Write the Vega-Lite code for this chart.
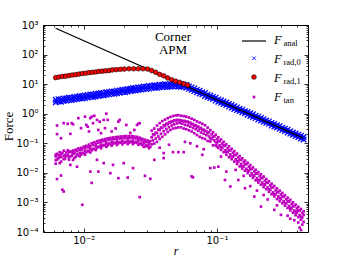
{
"$schema":"https://vega.github.io/schema/vega-lite/v6.json",
"width":265,"height":207,
"autosize":"none",
"padding":{"left":43,"top":25,"right":36,"bottom":26},
"background":"white",
"config":{"view":{"stroke":"black","strokeWidth":1},"axis":{"grid":false,"domain":false,"tickColor":"black","labelColor":"black","titleColor":"black","labelFont":"DejaVu Sans","labelFontSize":10,"tickWidth":0.8}},
"datasets":{
"anal":[{"r":0.00616,"f":774},{"r":0.4415,"f":0.152}],
"blue":[
{"r":0.00617,"f":2.95},{"r":0.00617,"f":2.45},{"r":0.00646,"f":3.11},{"r":0.00646,"f":2.56},{"r":0.00676,"f":3.10},{"r":0.00676,"f":2.55},{"r":0.00708,"f":3.27},{"r":0.00708,"f":2.66},{"r":0.00741,"f":3.33},{"r":0.00741,"f":2.77},{"r":0.00776,"f":3.52},{"r":0.00776,"f":2.90},{"r":0.00813,"f":3.51},{"r":0.00813,"f":2.88},{"r":0.00851,"f":3.70},{"r":0.00851,"f":3.01},{"r":0.00891,"f":3.78},{"r":0.00891,"f":3.14},{"r":0.00933,"f":3.98},{"r":0.00933,"f":3.27},{"r":0.00977,"f":3.96},{"r":0.00977,"f":3.26},{"r":0.01023,"f":4.18},{"r":0.01023,"f":3.40},{"r":0.01072,"f":4.27},{"r":0.01072,"f":3.55},{"r":0.01122,"f":4.50},{"r":0.01122,"f":3.70},{"r":0.01175,"f":4.48},{"r":0.01175,"f":3.68},{"r":0.0123,"f":4.71},{"r":0.0123,"f":3.83},{"r":0.01288,"f":4.80},{"r":0.01288,"f":3.99},{"r":0.01349,"f":5.06},{"r":0.01349,"f":4.16},{"r":0.01413,"f":5.04},{"r":0.01413,"f":4.14},{"r":0.01479,"f":5.31},{"r":0.01479,"f":4.32},{"r":0.01549,"f":5.42},{"r":0.01549,"f":4.51},{"r":0.01622,"f":5.71},{"r":0.01622,"f":4.70},{"r":0.01698,"f":5.70},{"r":0.01698,"f":4.69},{"r":0.01778,"f":6.03},{"r":0.01778,"f":4.90},{"r":0.01862,"f":6.15},{"r":0.01862,"f":5.12},{"r":0.0195,"f":6.50},{"r":0.0195,"f":5.35},{"r":0.02042,"f":6.49},{"r":0.02042,"f":5.33},{"r":0.02138,"f":6.85},{"r":0.02138,"f":5.57},{"r":0.02239,"f":7.00},{"r":0.02239,"f":5.82},{"r":0.02344,"f":7.40},{"r":0.02344,"f":6.08},{"r":0.02455,"f":7.38},{"r":0.02455,"f":6.07},{"r":0.0257,"f":7.78},{"r":0.0257,"f":6.32},{"r":0.02692,"f":7.91},{"r":0.02692,"f":6.58},{"r":0.02818,"f":8.32},{"r":0.02818,"f":6.76},{"r":0.02951,"f":8.26},{"r":0.02951,"f":6.79},{"r":0.0309,"f":8.69},{"r":0.0309,"f":7.06},{"r":0.03236,"f":8.81},{"r":0.03236,"f":7.33},{"r":0.03388,"f":9.23},{"r":0.03388,"f":7.50},{"r":0.03548,"f":9.12},{"r":0.03548,"f":7.50},{"r":0.03715,"f":9.55},{"r":0.03715,"f":7.76},{"r":0.0389,"f":9.66},{"r":0.0389,"f":8.04},{"r":0.04074,"f":10.05},{"r":0.04074,"f":8.17},{"r":0.04266,"f":9.79},{"r":0.04266,"f":8.05},{"r":0.04467,"f":10.0},{"r":0.04467,"f":8.22},{"r":0.04677,"f":10.1},{"r":0.04677,"f":8.39},{"r":0.04898,"f":10.4},{"r":0.04898,"f":8.47},{"r":0.05129,"f":10.07},{"r":0.05129,"f":8.28},{"r":0.0537,"f":10.2},{"r":0.0537,"f":8.17},{"r":0.05623,"f":9.77},{"r":0.05623,"f":8.13},{"r":0.05888,"f":9.33},{"r":0.05888,"f":7.59},{"r":0.06166,"f":8.41},{"r":0.06166,"f":6.92},{"r":0.06457,"f":7.78},{"r":0.06457,"f":6.47},{"r":0.06761,"f":7.18},{"r":0.06761,"f":5.83},{"r":0.07079,"f":6.40},{"r":0.07079,"f":5.32},{"r":0.07413,"f":5.97},{"r":0.07413,"f":4.85},{"r":0.07762,"f":5.38},{"r":0.07762,"f":4.53},{"r":0.08128,"f":5.02},{"r":0.08128,"f":3.99},{"r":0.08511,"f":4.43},{"r":0.08511,"f":3.68},{"r":0.08913,"f":4.13},{"r":0.08913,"f":3.40},{"r":0.09333,"f":3.72},{"r":0.09333,"f":3.13},{"r":0.09772,"f":3.48},{"r":0.09772,"f":2.76},{"r":0.1023,"f":3.06},{"r":0.1023,"f":2.55},{"r":0.1072,"f":2.86},{"r":0.1072,"f":2.32},{"r":0.1122,"f":2.58},{"r":0.1122,"f":2.14},{"r":0.1175,"f":2.40},{"r":0.1175,"f":1.98},{"r":0.123,"f":2.12},{"r":0.123,"f":1.74},{"r":0.1288,"f":1.98},{"r":0.1288,"f":1.59},{"r":0.1349,"f":1.78},{"r":0.1349,"f":1.45},{"r":0.1413,"f":1.64},{"r":0.1413,"f":1.34},{"r":0.1479,"f":1.48},{"r":0.1479,"f":1.23},{"r":0.1549,"f":1.38},{"r":0.1549,"f":1.12},{"r":0.1622,"f":1.22},{"r":0.1622,"f":1.03},{"r":0.1698,"f":1.14},{"r":0.1698,"f":0.925},{"r":0.1778,"f":1.04},{"r":0.1778,"f":0.834},{"r":0.1862,"f":0.957},{"r":0.1862,"f":0.769},{"r":0.195,"f":0.853},{"r":0.195,"f":0.710},{"r":0.2042,"f":0.796},{"r":0.2042,"f":0.640},{"r":0.2138,"f":0.718},{"r":0.2138,"f":0.583},{"r":0.2239,"f":0.655},{"r":0.2239,"f":0.532},{"r":0.2344,"f":0.590},{"r":0.2344,"f":0.491},{"r":0.2455,"f":0.551},{"r":0.2455,"f":0.453},{"r":0.257,"f":0.485},{"r":0.257,"f":0.399},{"r":0.2692,"f":0.453},{"r":0.2692,"f":0.368},{"r":0.2818,"f":0.408},{"r":0.2818,"f":0.340},{"r":0.2951,"f":0.381},{"r":0.2951,"f":0.306},{"r":0.309,"f":0.336},{"r":0.309,"f":0.279},{"r":0.3236,"f":0.313},{"r":0.3236,"f":0.261},{"r":0.3388,"f":0.286},{"r":0.3388,"f":0.230},{"r":0.3548,"f":0.258},{"r":0.3548,"f":0.212},{"r":0.3715,"f":0.232},{"r":0.3715,"f":0.195},{"r":0.389,"f":0.214},{"r":0.389,"f":0.176},{"r":0.4074,"f":0.195},{"r":0.4074,"f":0.159},{"r":0.4266,"f":0.180},{"r":0.4266,"f":0.145},{"r":0.4467,"f":0.163},{"r":0.4467,"f":0.135}
],
"red":[
{"r":0.006166,"f":16.6},{"r":0.006531,"f":17.4},{"r":0.006918,"f":18.2},{"r":0.007328,"f":18.6},{"r":0.007762,"f":19.5},{"r":0.008222,"f":20.4},{"r":0.00871,"f":20.9},{"r":0.009226,"f":21.9},{"r":0.009772,"f":22.9},{"r":0.01035,"f":23.4},{"r":0.01096,"f":24.5},{"r":0.01161,"f":25.1},{"r":0.0123,"f":25.7},{"r":0.01303,"f":26.9},{"r":0.0138,"f":27.5},{"r":0.01462,"f":28.2},{"r":0.01549,"f":28.8},{"r":0.01641,"f":30.2},{"r":0.01758,"f":30.9},{"r":0.01884,"f":31.6},{"r":0.02018,"f":32.4},{"r":0.02188,"f":33.1},{"r":0.02371,"f":33.1},{"r":0.0257,"f":33.1},{"r":0.02786,"f":33.1},{"r":0.0302,"f":32.4},{"r":0.03236,"f":28.8},{"r":0.03467,"f":25.1},{"r":0.03715,"f":21.4},{"r":0.03981,"f":19.1},{"r":0.04266,"f":16.2},{"r":0.04571,"f":14.1},{"r":0.04898,"f":12.6},{"r":0.05248,"f":11.5},{"r":0.05623,"f":10.2},{"r":0.06026,"f":9.3}
],
"mag":[
{"r":0.00617,"f":0.041},{"r":0.00617,"f":0.0269},{"r":0.00617,"f":0.036},{"r":0.00617,"f":0.0204},{"r":0.00631,"f":0.044},{"r":0.00631,"f":0.028},{"r":0.00646,"f":0.040},{"r":0.00646,"f":0.031},{"r":0.00661,"f":0.0363},{"r":0.00661,"f":0.05},{"r":0.00676,"f":0.043},{"r":0.00676,"f":0.034},{"r":0.00676,"f":0.024},{"r":0.00692,"f":0.047},{"r":0.00708,"f":0.056},{"r":0.00708,"f":0.029},{"r":0.00708,"f":0.037},{"r":0.00724,"f":0.040},{"r":0.00724,"f":0.03},{"r":0.00741,"f":0.049},{"r":0.00741,"f":0.036},{"r":0.00759,"f":0.041},{"r":0.00759,"f":0.058},{"r":0.00776,"f":0.05},{"r":0.00776,"f":0.0339},{"r":0.00776,"f":0.028},{"r":0.00794,"f":0.053},{"r":0.00794,"f":0.036},{"r":0.00813,"f":0.05},{"r":0.00813,"f":0.038},{"r":0.00832,"f":0.057},{"r":0.00832,"f":0.044},{"r":0.00851,"f":0.052},{"r":0.00851,"f":0.032},{"r":0.00851,"f":0.046},{"r":0.00871,"f":0.061},{"r":0.00871,"f":0.035},{"r":0.00891,"f":0.054},{"r":0.00891,"f":0.042},{"r":0.00912,"f":0.067},{"r":0.00912,"f":0.039},{"r":0.00933,"f":0.059},{"r":0.00933,"f":0.036},{"r":0.00933,"f":0.047},{"r":0.00955,"f":0.07},{"r":0.00955,"f":0.041},{"r":0.00977,"f":0.062},{"r":0.00977,"f":0.048},{"r":0.01,"f":0.077},{"r":0.01,"f":0.045},{"r":0.01023,"f":0.068},{"r":0.01023,"f":0.041},{"r":0.01023,"f":0.055},{"r":0.01047,"f":0.082},{"r":0.01047,"f":0.05},{"r":0.01072,"f":0.073},{"r":0.01072,"f":0.056},{"r":0.01096,"f":0.09},{"r":0.01096,"f":0.053},{"r":0.01122,"f":0.08},{"r":0.01122,"f":0.049},{"r":0.01122,"f":0.066},{"r":0.01148,"f":0.1},{"r":0.01148,"f":0.058},{"r":0.01175,"f":0.088},{"r":0.01175,"f":0.065},{"r":0.01202,"f":0.108},{"r":0.01202,"f":0.064},{"r":0.0123,"f":0.096},{"r":0.0123,"f":0.059},{"r":0.0123,"f":0.079},{"r":0.01259,"f":0.118},{"r":0.01259,"f":0.07},{"r":0.01288,"f":0.103},{"r":0.01288,"f":0.076},{"r":0.01318,"f":0.125},{"r":0.01318,"f":0.078},{"r":0.01349,"f":0.11},{"r":0.01349,"f":0.068},{"r":0.01349,"f":0.09},{"r":0.0138,"f":0.132},{"r":0.0138,"f":0.081},{"r":0.01413,"f":0.118},{"r":0.01413,"f":0.088},{"r":0.01445,"f":0.14},{"r":0.01445,"f":0.086},{"r":0.01479,"f":0.124},{"r":0.01479,"f":0.076},{"r":0.01479,"f":0.1},{"r":0.01514,"f":0.146},{"r":0.01514,"f":0.086},{"r":0.01549,"f":0.13},{"r":0.01549,"f":0.098},{"r":0.01585,"f":0.152},{"r":0.01585,"f":0.094},{"r":0.01622,"f":0.135},{"r":0.01622,"f":0.083},{"r":0.01622,"f":0.11},{"r":0.0166,"f":0.158},{"r":0.0166,"f":0.095},{"r":0.01698,"f":0.138},{"r":0.01698,"f":0.105},{"r":0.01738,"f":0.162},{"r":0.01738,"f":0.1},{"r":0.01778,"f":0.14},{"r":0.01778,"f":0.087},{"r":0.01778,"f":0.115},{"r":0.0182,"f":0.166},{"r":0.0182,"f":0.1},{"r":0.01862,"f":0.145},{"r":0.01862,"f":0.11},{"r":0.01905,"f":0.17},{"r":0.01905,"f":0.105},{"r":0.0195,"f":0.148},{"r":0.0195,"f":0.092},{"r":0.0195,"f":0.12},{"r":0.01995,"f":0.172},{"r":0.01995,"f":0.104},{"r":0.02042,"f":0.148},{"r":0.02042,"f":0.112},{"r":0.02089,"f":0.176},{"r":0.02089,"f":0.108},{"r":0.02138,"f":0.15},{"r":0.02138,"f":0.094},{"r":0.02138,"f":0.124},{"r":0.02188,"f":0.175},{"r":0.02188,"f":0.106},{"r":0.02239,"f":0.15},{"r":0.02239,"f":0.115},{"r":0.02291,"f":0.174},{"r":0.02291,"f":0.109},{"r":0.02344,"f":0.15},{"r":0.02344,"f":0.094},{"r":0.02344,"f":0.123},{"r":0.02399,"f":0.17},{"r":0.02399,"f":0.104},{"r":0.02455,"f":0.146},{"r":0.02455,"f":0.112},{"r":0.02512,"f":0.165},{"r":0.02512,"f":0.103},{"r":0.0257,"f":0.143},{"r":0.0257,"f":0.089},{"r":0.0257,"f":0.118},{"r":0.0263,"f":0.155},{"r":0.0263,"f":0.095},{"r":0.02692,"f":0.132},{"r":0.02692,"f":0.104},{"r":0.02754,"f":0.142},{"r":0.02754,"f":0.088},{"r":0.02818,"f":0.12},{"r":0.02818,"f":0.076},{"r":0.02818,"f":0.1},{"r":0.02884,"f":0.132},{"r":0.02884,"f":0.078},{"r":0.02951,"f":0.112},{"r":0.02951,"f":0.088},{"r":0.0302,"f":0.124},{"r":0.0302,"f":0.079},{"r":0.0309,"f":0.108},{"r":0.0309,"f":0.068},{"r":0.0309,"f":0.094},{"r":0.03162,"f":0.118},{"r":0.03162,"f":0.075},
{"r":0.03236,"f":0.269},{"r":0.03236,"f":0.16},{"r":0.03236,"f":0.092},{"r":0.03311,"f":0.2},{"r":0.03311,"f":0.125},{"r":0.03388,"f":0.316},{"r":0.03388,"f":0.19},{"r":0.03388,"f":0.098},{"r":0.03467,"f":0.23},{"r":0.03467,"f":0.145},{"r":0.03548,"f":0.398},{"r":0.03548,"f":0.22},{"r":0.03548,"f":0.112},{"r":0.03631,"f":0.29},{"r":0.03631,"f":0.17},{"r":0.03715,"f":0.479},{"r":0.03715,"f":0.28},{"r":0.03715,"f":0.14},{"r":0.03802,"f":0.34},{"r":0.03802,"f":0.21},{"r":0.0389,"f":0.562},{"r":0.0389,"f":0.33},{"r":0.0389,"f":0.165},{"r":0.03981,"f":0.41},{"r":0.03981,"f":0.255},{"r":0.04074,"f":0.631},{"r":0.04074,"f":0.38},{"r":0.04074,"f":0.2},{"r":0.04169,"f":0.46},{"r":0.04169,"f":0.3},{"r":0.04266,"f":0.708},{"r":0.04266,"f":0.44},{"r":0.04266,"f":0.24},{"r":0.04365,"f":0.52},{"r":0.04365,"f":0.35},{"r":0.04467,"f":0.776},{"r":0.04467,"f":0.5},{"r":0.04467,"f":0.28},{"r":0.04571,"f":0.56},{"r":0.04571,"f":0.4},{"r":0.04677,"f":0.832},{"r":0.04677,"f":0.55},{"r":0.04677,"f":0.315},{"r":0.04786,"f":0.6},{"r":0.04786,"f":0.44},{"r":0.04898,"f":0.871},{"r":0.04898,"f":0.59},{"r":0.04898,"f":0.33},{"r":0.05012,"f":0.62},{"r":0.05012,"f":0.47},{"r":0.05129,"f":0.891},{"r":0.05129,"f":0.6},{"r":0.05129,"f":0.345},{"r":0.05248,"f":0.61},{"r":0.05248,"f":0.49},{"r":0.0537,"f":0.851},{"r":0.0537,"f":0.58},{"r":0.0537,"f":0.345},{"r":0.05495,"f":0.58},{"r":0.05495,"f":0.46},{"r":0.05623,"f":0.832},{"r":0.05623,"f":0.55},{"r":0.05623,"f":0.315},{"r":0.05754,"f":0.57},{"r":0.05754,"f":0.42},{"r":0.05888,"f":0.794},{"r":0.05888,"f":0.53},{"r":0.05888,"f":0.3},{"r":0.06026,"f":0.54},{"r":0.06026,"f":0.4},{"r":0.06166,"f":0.741},{"r":0.06166,"f":0.48},{"r":0.06166,"f":0.275},{"r":0.0631,"f":0.5},{"r":0.0631,"f":0.365},{"r":0.06457,"f":0.676},{"r":0.06457,"f":0.44},{"r":0.06457,"f":0.25},{"r":0.06607,"f":0.45},{"r":0.06607,"f":0.33},{"r":0.06761,"f":0.617},{"r":0.06761,"f":0.39},{"r":0.06761,"f":0.218},{"r":0.06918,"f":0.41},{"r":0.06918,"f":0.3},{"r":0.07079,"f":0.55},{"r":0.07079,"f":0.35},{"r":0.07079,"f":0.19},{"r":0.07244,"f":0.37},{"r":0.07244,"f":0.265},{"r":0.07413,"f":0.501},{"r":0.07413,"f":0.31},{"r":0.07413,"f":0.166},{"r":0.07586,"f":0.33},{"r":0.07586,"f":0.23},{"r":0.07762,"f":0.457},{"r":0.07762,"f":0.28},{"r":0.07762,"f":0.15},{"r":0.07943,"f":0.29},{"r":0.07943,"f":0.21},{"r":0.08128,"f":0.407},{"r":0.08128,"f":0.26},{"r":0.08128,"f":0.14},{"r":0.08318,"f":0.26},{"r":0.08318,"f":0.19},{"r":0.08511,"f":0.339},{"r":0.08511,"f":0.22},{"r":0.08511,"f":0.12},
{"r":0.0871,"f":0.234},{"r":0.0871,"f":0.17},{"r":0.08913,"f":0.28},{"r":0.08913,"f":0.15},{"r":0.08913,"f":0.115},{"r":0.0912,"f":0.2},{"r":0.0912,"f":0.14},{"r":0.09333,"f":0.235},{"r":0.09333,"f":0.165},{"r":0.09333,"f":0.085},{"r":0.0955,"f":0.17},{"r":0.0955,"f":0.125},{"r":0.09772,"f":0.195},{"r":0.09772,"f":0.11},{"r":0.09772,"f":0.085},{"r":0.1,"f":0.141},{"r":0.1,"f":0.1},{"r":0.1023,"f":0.16},{"r":0.1023,"f":0.12},{"r":0.1023,"f":0.07},{"r":0.1047,"f":0.117},{"r":0.1047,"f":0.085},{"r":0.1072,"f":0.135},{"r":0.1072,"f":0.075},{"r":0.1072,"f":0.06},{"r":0.1096,"f":0.098},{"r":0.1096,"f":0.07},{"r":0.1122,"f":0.112},{"r":0.1122,"f":0.085},{"r":0.1122,"f":0.05},{"r":0.1148,"f":0.081},{"r":0.1148,"f":0.058},{"r":0.1175,"f":0.092},{"r":0.1175,"f":0.052},{"r":0.1175,"f":0.041},{"r":0.1202,"f":0.067},{"r":0.1202,"f":0.05},{"r":0.123,"f":0.078},{"r":0.123,"f":0.058},{"r":0.123,"f":0.034},{"r":0.1259,"f":0.057},{"r":0.1259,"f":0.042},{"r":0.1288,"f":0.065},{"r":0.1288,"f":0.036},{"r":0.1288,"f":0.029},{"r":0.1318,"f":0.048},{"r":0.1318,"f":0.035},{"r":0.1349,"f":0.054},{"r":0.1349,"f":0.04},{"r":0.1349,"f":0.024},{"r":0.138,"f":0.04},{"r":0.138,"f":0.029},{"r":0.1413,"f":0.045},{"r":0.1413,"f":0.025},{"r":0.1413,"f":0.02},{"r":0.1445,"f":0.033},{"r":0.1445,"f":0.024},{"r":0.1479,"f":0.037},{"r":0.1479,"f":0.028},{"r":0.1479,"f":0.0165},{"r":0.1514,"f":0.0275},{"r":0.1514,"f":0.02},{"r":0.1549,"f":0.031},{"r":0.1549,"f":0.017},{"r":0.1549,"f":0.014},{"r":0.1585,"f":0.0234},{"r":0.1585,"f":0.0165},{"r":0.1622,"f":0.026},{"r":0.1622,"f":0.02},{"r":0.1622,"f":0.0118},{"r":0.166,"f":0.0195},{"r":0.166,"f":0.0138},{"r":0.1698,"f":0.022},{"r":0.1698,"f":0.012},{"r":0.1698,"f":0.0098},{"r":0.1738,"f":0.0162},{"r":0.1738,"f":0.0115},{"r":0.1778,"f":0.0183},{"r":0.1778,"f":0.0138},{"r":0.1778,"f":0.0081},{"r":0.182,"f":0.0134},{"r":0.182,"f":0.0096},{"r":0.1862,"f":0.0152},{"r":0.1862,"f":0.0083},{"r":0.1862,"f":0.0068},{"r":0.1905,"f":0.0112},{"r":0.1905,"f":0.008},{"r":0.195,"f":0.0127},{"r":0.195,"f":0.0096},{"r":0.195,"f":0.0056},{"r":0.1995,"f":0.0094},{"r":0.1995,"f":0.0066},{"r":0.2042,"f":0.0106},{"r":0.2042,"f":0.0057},{"r":0.2042,"f":0.0047},{"r":0.2089,"f":0.0079},{"r":0.2089,"f":0.0056},{"r":0.2138,"f":0.009},{"r":0.2138,"f":0.0068},{"r":0.2138,"f":0.004},{"r":0.2188,"f":0.0066},{"r":0.2188,"f":0.0047},{"r":0.2239,"f":0.0075},{"r":0.2239,"f":0.0041},{"r":0.2239,"f":0.0033},{"r":0.2291,"f":0.0055},{"r":0.2291,"f":0.0039},{"r":0.2344,"f":0.0062},{"r":0.2344,"f":0.0047},{"r":0.2344,"f":0.0028},{"r":0.2399,"f":0.0046},{"r":0.2399,"f":0.0032},{"r":0.2455,"f":0.0052},{"r":0.2455,"f":0.0028},{"r":0.2455,"f":0.0023},{"r":0.2512,"f":0.0038},{"r":0.2512,"f":0.0027},{"r":0.257,"f":0.0043},{"r":0.257,"f":0.0033},{"r":0.257,"f":0.0019},{"r":0.263,"f":0.0032},{"r":0.263,"f":0.0022},{"r":0.2692,"f":0.0036},{"r":0.2692,"f":0.0019},{"r":0.2692,"f":0.0016},{"r":0.2754,"f":0.0026},{"r":0.2754,"f":0.0019},{"r":0.2818,"f":0.003},{"r":0.2818,"f":0.0023},{"r":0.2818,"f":0.0013},{"r":0.2884,"f":0.0022},{"r":0.2884,"f":0.0016},{"r":0.2951,"f":0.0025},{"r":0.2951,"f":0.0014},{"r":0.2951,"f":0.0011},{"r":0.302,"f":0.00186},{"r":0.302,"f":0.0013},{"r":0.309,"f":0.0021},{"r":0.309,"f":0.0016},{"r":0.309,"f":0.00094},{"r":0.3162,"f":0.00155},{"r":0.3162,"f":0.0011},{"r":0.3236,"f":0.00175},{"r":0.3236,"f":0.00095},{"r":0.3236,"f":0.00078},{"r":0.3311,"f":0.00128},{"r":0.3311,"f":0.00092},{"r":0.3388,"f":0.00145},{"r":0.3388,"f":0.0011},{"r":0.3388,"f":0.00065},{"r":0.3467,"f":0.00107},{"r":0.3467,"f":0.00076},{"r":0.3548,"f":0.00122},{"r":0.3548,"f":0.00066},{"r":0.3548,"f":0.00054},{"r":0.3631,"f":0.00089},{"r":0.3631,"f":0.00063},{"r":0.3715,"f":0.00101},{"r":0.3715,"f":0.00077},{"r":0.3715,"f":0.00045},{"r":0.3802,"f":0.00074},{"r":0.3802,"f":0.00053},{"r":0.389,"f":0.00084},{"r":0.389,"f":0.00046},{"r":0.389,"f":0.00037},{"r":0.3981,"f":0.00063},{"r":0.3981,"f":0.00045},{"r":0.4074,"f":0.00071},{"r":0.4074,"f":0.00054},{"r":0.4074,"f":0.00032},{"r":0.4169,"f":0.00052},{"r":0.4169,"f":0.00037},{"r":0.4266,"f":0.0006},{"r":0.4266,"f":0.00033},{"r":0.4266,"f":0.00026},{"r":0.4365,"f":0.00044},{"r":0.4365,"f":0.00031},{"r":0.4467,"f":0.0005},{"r":0.4467,"f":0.00038},{"r":0.4467,"f":0.00022},
{"r":0.00631,"f":0.398},{"r":0.00631,"f":0.204},{"r":0.00676,"f":0.148},{"r":0.00708,"f":0.479},{"r":0.00759,"f":0.457},{"r":0.00794,"f":0.209},{"r":0.00813,"f":0.479},{"r":0.00832,"f":0.437},{"r":0.00912,"f":0.708},{"r":0.00955,"f":0.324},{"r":0.01023,"f":0.794},{"r":0.01047,"f":0.417},{"r":0.01072,"f":0.363},{"r":0.01122,"f":0.708},{"r":0.01148,"f":0.794},{"r":0.01175,"f":0.479},{"r":0.01202,"f":0.851},{"r":0.01259,"f":0.617},{"r":0.01288,"f":0.282},{"r":0.01318,"f":0.537},{"r":0.01349,"f":0.219},{"r":0.01413,"f":0.617},{"r":0.01445,"f":0.324},{"r":0.01479,"f":1.0},{"r":0.01514,"f":0.617},{"r":0.01622,"f":0.251},{"r":0.0182,"f":0.537},{"r":0.01862,"f":0.617},{"r":0.02089,"f":0.417},{"r":0.02512,"f":0.417},{"r":0.0263,"f":0.479},{"r":0.0257,"f":0.457},{"r":0.01096,"f":0.251},{"r":0.01738,"f":0.316},{"r":0.02239,"f":0.224},{"r":0.02399,"f":0.282},
{"r":0.00631,"f":0.00617},{"r":0.00676,"f":0.00813},{"r":0.00692,"f":0.00269},{"r":0.00708,"f":0.00234},{"r":0.00977,"f":0.000832},{"r":0.01148,"f":0.00457},{"r":0.0182,"f":0.00661},{"r":0.02138,"f":0.00692},{"r":0.0263,"f":0.00151},{"r":0.01122,"f":0.011},{"r":0.01288,"f":0.011},{"r":0.01585,"f":0.00977},{"r":0.00661,"f":0.0214},{"r":0.00794,"f":0.0186},{"r":0.00832,"f":0.0275},{"r":0.00891,"f":0.0162},{"r":0.01259,"f":0.0275},{"r":0.01413,"f":0.0214},{"r":0.0166,"f":0.0186},{"r":0.01995,"f":0.0214},{"r":0.02344,"f":0.0145},
{"r":0.03388,"f":0.0275},{"r":0.03981,"f":0.0316},{"r":0.04677,"f":0.0501},{"r":0.05129,"f":0.0501},{"r":0.05623,"f":0.0501},{"r":0.06457,"f":0.00759},{"r":0.06607,"f":0.00708},{"r":0.02884,"f":0.00794},{"r":0.03162,"f":0.00631},{"r":0.08913,"f":0.0145},{"r":0.0955,"f":0.0151},{"r":0.1175,"f":0.011},{"r":0.07762,"f":0.0407},{"r":0.03981,"f":0.0468},{"r":0.03715,"f":0.0708},{"r":0.04365,"f":0.0891},{"r":0.05754,"f":0.112},{"r":0.0631,"f":0.1},{"r":0.07079,"f":0.0794},{"r":0.07943,"f":0.0631},
{"r":0.1023,"f":0.0162},{"r":0.1148,"f":0.00575},{"r":0.1259,"f":0.00347},{"r":0.1445,"f":0.00575},{"r":0.1622,"f":0.00302},{"r":0.1905,"f":0.00158},{"r":0.2138,"f":0.000724},{"r":0.2692,"f":0.000562},{"r":0.302,"f":0.00038},{"r":0.4074,"f":0.000209},{"r":0.4266,"f":0.000117},{"r":0.1,"f":0.0776},{"r":0.1072,"f":0.0355},{"r":0.1778,"f":0.00355},{"r":0.1995,"f":0.00251},{"r":0.2399,"f":0.00126},{"r":0.2818,"f":0.000794},{"r":0.3388,"f":0.000355},{"r":0.3802,"f":0.000251},{"r":0.4169,"f":0.000141},{"r":0.4365,"f":0.000178},{"r":0.3548,"f":0.000282},{"r":0.3981,"f":0.000501},{"r":0.138,"f":0.0126},{"r":0.1585,"f":0.00794},{"r":0.2239,"f":0.00178}
]
},
"resolve":{"axis":{"x":"independent","y":"independent"}},
"layer":[
{"data":{"name":"blue"},
 "mark":{"type":"point","shape":"M-1,-1L1,1M1,-1L-1,1","filled":false,"color":"#0000ff","size":30,"strokeWidth":1.3,"opacity":1},
 "encoding":{
  "x":{"field":"r","type":"quantitative","scale":{"type":"log","domain":[0.004952,0.4818],"nice":false},
       "axis":{"orient":"bottom","values":[0.01,0.1],"labelExpr":"'10' + (datum.value < 1 ? '⁻' : '') + ['⁰','¹','²','³','⁴'][abs(round(log(datum.value) / LN10))]","tickSize":-4,"labelPadding":7,"labelFlush":false,"title":"r","titleFont":"Liberation Serif","titleFontStyle":"italic","titleFontWeight":"normal","titleFontSize":12,"titleY":22,"titleBaseline":"alphabetic","zindex":1}},
  "y":{"field":"f","type":"quantitative","scale":{"type":"log","domain":[0.0001,1000],"nice":false},
       "axis":{"orient":"left","values":[0.0001,0.001,0.01,0.1,1,10,100,1000],"labelExpr":"'10' + (datum.value < 1 ? '⁻' : '') + ['⁰','¹','²','³','⁴'][abs(round(log(datum.value) / LN10))]","tickSize":-4,"labelPadding":9,"labelFlush":false,"title":"Force","titleFont":"Liberation Serif","titleFontWeight":"normal","titleFontSize":13,"titleX":-31,"titleY":101,"titleAngle":270,"titleBaseline":"alphabetic","titleAlign":"center","zindex":1}}
 }},
{"data":{"name":"anal"},
 "mark":{"type":"line","color":"black","strokeWidth":1.2},
 "encoding":{
  "x":{"field":"r","type":"quantitative","scale":{"type":"log","domain":[0.004952,0.4818],"nice":false},
       "axis":{"orient":"bottom","values":[0.005,0.006,0.007,0.008,0.009,0.02,0.03,0.04,0.05,0.06,0.07,0.08,0.09,0.2,0.3,0.4],"labels":false,"tickSize":-2,"title":null,"zindex":1}},
  "y":{"field":"f","type":"quantitative","scale":{"type":"log","domain":[0.0001,1000],"nice":false},
       "axis":{"orient":"left","values":[0.0002,0.0003,0.0004,0.0005,0.0006,0.0007,0.0008,0.0009,0.002,0.003,0.004,0.005,0.006,0.007,0.008,0.009,0.02,0.03,0.04,0.05,0.06,0.07,0.08,0.09,0.2,0.3,0.4,0.5,0.6,0.7,0.8,0.9,2,3,4,5,6,7,8,9,20,30,40,50,60,70,80,90,200,300,400,500,600,700,800,900],"labels":false,"tickSize":-2,"title":null,"zindex":1}}
 }},
{"data":{"name":"red"},
 "mark":{"type":"point","shape":"circle","filled":true,"fill":"#ff0000","stroke":"black","strokeWidth":0.6,"size":22,"opacity":1},
 "encoding":{
  "x":{"field":"r","type":"quantitative","scale":{"type":"log","domain":[0.004952,0.4818],"nice":false},
       "axis":{"orient":"top","values":[0.01,0.1],"labels":false,"tickSize":-4,"title":null,"zindex":1}},
  "y":{"field":"f","type":"quantitative","scale":{"type":"log","domain":[0.0001,1000],"nice":false},
       "axis":{"orient":"right","values":[0.0001,0.001,0.01,0.1,1,10,100,1000],"labels":false,"tickSize":-4,"title":null,"zindex":1}}
 }},
{"data":{"name":"mag"},
 "mark":{"type":"point","shape":"square","filled":true,"color":"#bf00bf","size":7,"opacity":1},
 "encoding":{
  "x":{"field":"r","type":"quantitative","scale":{"type":"log","domain":[0.004952,0.4818],"nice":false},
       "axis":{"orient":"top","values":[0.005,0.006,0.007,0.008,0.009,0.02,0.03,0.04,0.05,0.06,0.07,0.08,0.09,0.2,0.3,0.4],"labels":false,"tickSize":-2,"title":null,"zindex":1}},
  "y":{"field":"f","type":"quantitative","scale":{"type":"log","domain":[0.0001,1000],"nice":false},
       "axis":{"orient":"right","values":[0.0002,0.0003,0.0004,0.0005,0.0006,0.0007,0.0008,0.0009,0.002,0.003,0.004,0.005,0.006,0.007,0.008,0.009,0.02,0.03,0.04,0.05,0.06,0.07,0.08,0.09,0.2,0.3,0.4,0.5,0.6,0.7,0.8,0.9,2,3,4,5,6,7,8,9,20,30,40,50,60,70,80,90,200,300,400,500,600,700,800,900],"labels":false,"tickSize":-2,"title":null,"zindex":1}}
 }},
{"data":{"values":[{}]},
 "mark":{"type":"rule","color":"black","strokeWidth":1.2},
 "encoding":{
  "x":{"datum":0.1541,"type":"quantitative","scale":{"type":"log","domain":[0.004952,0.4818],"nice":false},"axis":null},
  "x2":{"datum":0.2332},
  "y":{"datum":287.7,"type":"quantitative","scale":{"type":"log","domain":[0.0001,1000],"nice":false},"axis":null}
 }},
{"data":{"values":[{}]},
 "mark":{"type":"point","shape":"M-1,-1L1,1M1,-1L-1,1","filled":false,"color":"#0000ff","size":14,"strokeWidth":0.9,"opacity":1},
 "encoding":{
  "x":{"datum":0.1895,"type":"quantitative","scale":{"type":"log","domain":[0.004952,0.4818],"nice":false},"axis":null},
  "y":{"datum":74.8,"type":"quantitative","scale":{"type":"log","domain":[0.0001,1000],"nice":false},"axis":null}
 }},
{"data":{"values":[{}]},
 "mark":{"type":"point","shape":"circle","filled":true,"fill":"#ff0000","stroke":"black","strokeWidth":0.6,"size":22,"opacity":1},
 "encoding":{
  "x":{"datum":0.1895,"type":"quantitative","scale":{"type":"log","domain":[0.004952,0.4818],"nice":false},"axis":null},
  "y":{"datum":17.44,"type":"quantitative","scale":{"type":"log","domain":[0.0001,1000],"nice":false},"axis":null}
 }},
{"data":{"values":[{}]},
 "mark":{"type":"point","shape":"square","filled":true,"color":"#bf00bf","size":7,"opacity":1},
 "encoding":{
  "x":{"datum":0.1895,"type":"quantitative","scale":{"type":"log","domain":[0.004952,0.4818],"nice":false},"axis":null},
  "y":{"datum":3.67,"type":"quantitative","scale":{"type":"log","domain":[0.0001,1000],"nice":false},"axis":null}
 }},
{"data":{"values":[{}]},
 "mark":{"type":"text","text":["F","F","F","F"],"lineHeight":19,"align":"left","baseline":"alphabetic","font":"Liberation Serif","fontStyle":"italic","fontSize":12.5,"color":"black"},
 "encoding":{
  "x":{"datum":0.2677,"type":"quantitative","scale":{"type":"log","domain":[0.004952,0.4818],"nice":false},"axis":null},
  "y":{"datum":227.8,"type":"quantitative","scale":{"type":"log","domain":[0.0001,1000],"nice":false},"axis":null}
 }},
{"data":{"values":[{}]},
 "mark":{"type":"text","text":["anal","rad,0","rad,1","tan"],"lineHeight":19,"align":"left","baseline":"alphabetic","font":"Liberation Serif","fontSize":8.5,"color":"black"},
 "encoding":{
  "x":{"datum":0.3155,"type":"quantitative","scale":{"type":"log","domain":[0.004952,0.4818],"nice":false},"axis":null},
  "y":{"datum":187.5,"type":"quantitative","scale":{"type":"log","domain":[0.0001,1000],"nice":false},"axis":null}
 }},
{"data":{"values":[{}]},
 "mark":{"type":"text","text":["Corner","APM"],"lineHeight":13.5,"align":"center","baseline":"alphabetic","font":"Liberation Serif","fontSize":13,"color":"black"},
 "encoding":{
  "x":{"datum":0.04677,"type":"quantitative","scale":{"type":"log","domain":[0.004952,0.4818],"nice":false},"axis":null},
  "y":{"datum":287.7,"type":"quantitative","scale":{"type":"log","domain":[0.0001,1000],"nice":false},"axis":null}
 }}
]
}
